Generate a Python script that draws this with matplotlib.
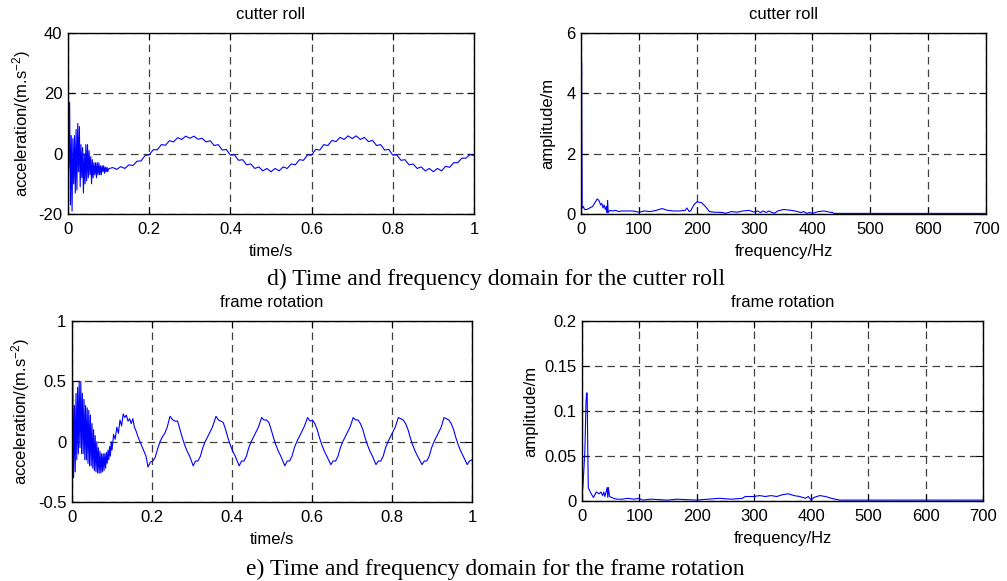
import matplotlib
matplotlib.use("Agg")
import matplotlib.pyplot as plt

plt.rcParams['font.family'] = ['Liberation Sans', 'DejaVu Sans']
plt.rcParams['mathtext.default'] = 'regular'
plt.rcParams['axes.unicode_minus'] = False

# ---------------- data ----------------
# cutter roll, time domain (s, m/s^2)
cr_time = [0.000, 0.002, 0.004, 0.006, 0.008, 0.010, 0.012, 0.014, 0.016, 0.018,
           0.020, 0.022, 0.024, 0.026, 0.028, 0.030, 0.032, 0.034, 0.036, 0.038,
           0.040, 0.042, 0.044, 0.046, 0.048, 0.050, 0.052, 0.054, 0.056, 0.058,
           0.060, 0.062, 0.064, 0.066, 0.068, 0.070, 0.072, 0.074, 0.076, 0.078,
           0.080, 0.082, 0.084, 0.086, 0.088, 0.090, 0.092, 0.094, 0.096, 0.098,
           0.100, 0.11, 0.12, 0.13, 0.14, 0.15, 0.16, 0.17, 0.18, 0.19,
           0.20, 0.21, 0.22, 0.23, 0.24, 0.25, 0.26, 0.27, 0.28, 0.29,
           0.30, 0.31, 0.32, 0.33, 0.34, 0.35, 0.36, 0.37, 0.38, 0.39,
           0.40, 0.41, 0.42, 0.43, 0.44, 0.45, 0.46, 0.47, 0.48, 0.49,
           0.50, 0.51, 0.52, 0.53, 0.54, 0.55, 0.56, 0.57, 0.58, 0.59,
           0.60, 0.61, 0.62, 0.63, 0.64, 0.65, 0.66, 0.67, 0.68, 0.69,
           0.70, 0.71, 0.72, 0.73, 0.74, 0.75, 0.76, 0.77, 0.78, 0.79,
           0.80, 0.81, 0.82, 0.83, 0.84, 0.85, 0.86, 0.87, 0.88, 0.89,
           0.90, 0.91, 0.92, 0.93, 0.94, 0.95, 0.96, 0.97, 0.98, 0.99, 1.00]
cr_acc = [27, -5, 17, -17, 6, -19, 5, -10, 6, -13,
          8, -12, 10, -6, 9, -11, 3, -8, 2, -13,
          0, -10, 3, -9, 3, -8, 1, -7, -1, -10,
          -2, -8, -3, -7, -3, -8, -3, -7, -3, -7,
          -4, -7, -4, -6, -4, -6.5, -4.5, -6, -4.5, -6,
          -5, -4.6, -5.2, -4.3, -4.9, -3.7, -3.9, -2.5, -2.4, -0.6,
          -0.4, 1.3, 1.3, 3.0, 2.8, 4.3, 3.9, 5.3, 4.7, 5.8,
          5.1, 5.8, 4.8, 5.1, 3.9, 4.3, 2.7, 3.0, 1.2, 1.4,
          -0.5, -0.4, -2.2, -2.0, -3.7, -3.4, -4.9, -4.4, -5.7, -4.9,
          -6.0, -4.9, -5.7, -4.4, -4.9, -3.4, -3.7, -2.0, -2.2, -0.4,
          -0.5, 1.4, 1.2, 3.0, 2.7, 4.4, 4.0, 5.4, 4.7, 5.9,
          5.0, 5.9, 4.7, 5.4, 4.0, 4.4, 2.7, 3.0, 1.2, 1.4,
          -0.5, -0.4, -2.2, -2.0, -3.7, -3.4, -4.9, -4.4, -5.7, -4.9,
          -6.0, -4.9, -5.7, -4.2, -4.5, -3.0, -3.0, -1.5, -1.5, -0.3, -0.6]

# cutter roll, frequency domain (Hz, amplitude)
cr_freq = [0, 1, 2, 4, 6, 10, 15, 20, 25, 28, 31, 34, 36, 38, 40, 42, 44, 45, 46, 47,
           50, 55, 60, 65, 70, 80, 90, 100, 110, 120, 130, 140, 150, 160, 170, 180,
           183, 187, 190, 195, 200, 208, 215, 222, 230, 245, 250, 260, 270, 280, 290,
           300, 305, 310, 315, 320, 325, 330, 335, 340, 350, 360, 370, 380, 385, 390,
           395, 400, 410, 420, 430, 435, 437, 500, 600, 700]
cr_amp = [1.6, 5.0, 0.2, 0.25, 0.15, 0.15, 0.2, 0.25, 0.4, 0.5, 0.45, 0.3, 0.35, 0.2, 0.3,
          0.15, 0.25, 0.05, 0.45, 0.05,
          0.12, 0.1, 0.12, 0.08, 0.1, 0.1, 0.1, 0.06, 0.1, 0.08, 0.12, 0.18, 0.12, 0.1, 0.1, 0.12,
          0.2, 0.08, 0.12, 0.3, 0.4, 0.38, 0.25, 0.08, 0.06, 0.05, 0.02, 0.08, 0.06, 0.1, 0.12,
          0.06, 0.1, 0.05, 0.1, 0.05, 0.1, 0.05, 0.03, 0.1, 0.15, 0.13, 0.1, 0.05, 0.08, 0.02,
          0.05, 0.02, 0.08, 0.1, 0.06, 0.05, 0.02, 0.02, 0.02, 0.02]

# frame rotation, time domain (s, m/s^2)
fr_time = [0.000, 0.002, 0.004, 0.006, 0.008, 0.010, 0.012, 0.014, 0.016, 0.018,
           0.020, 0.022, 0.024, 0.026, 0.028, 0.030, 0.032, 0.034, 0.036, 0.038,
           0.040, 0.042, 0.044, 0.046, 0.048, 0.050, 0.052, 0.054, 0.056, 0.058,
           0.060, 0.062, 0.064, 0.066, 0.068, 0.070, 0.072, 0.074, 0.076, 0.078,
           0.080, 0.082, 0.084, 0.086, 0.088, 0.090, 0.092, 0.094, 0.096, 0.098,
           0.100, 0.104, 0.108, 0.112, 0.116, 0.120, 0.124, 0.128, 0.132, 0.136,
           0.140, 0.144, 0.148, 0.152, 0.156, 0.160, 0.165, 0.170, 0.175, 0.180,
           0.185,
           0.190, 0.196, 0.202, 0.208, 0.214, 0.220, 0.226, 0.232, 0.238, 0.245,
           0.252, 0.258, 0.264, 0.270, 0.276, 0.282, 0.288, 0.294,
           0.303, 0.309, 0.315, 0.321, 0.327, 0.333, 0.339, 0.345, 0.351, 0.360,
           0.366, 0.372, 0.378, 0.384, 0.390, 0.396, 0.402, 0.408,
           0.418, 0.424, 0.430, 0.436, 0.442, 0.448, 0.454, 0.460, 0.466, 0.474,
           0.480, 0.486, 0.492, 0.498, 0.504, 0.510, 0.516, 0.522,
           0.532, 0.538, 0.544, 0.550, 0.556, 0.562, 0.568, 0.574, 0.580, 0.589,
           0.595, 0.601, 0.607, 0.613, 0.619, 0.625, 0.631, 0.637,
           0.647, 0.653, 0.659, 0.665, 0.671, 0.677, 0.683, 0.689, 0.695, 0.703,
           0.709, 0.715, 0.721, 0.727, 0.733, 0.739, 0.745, 0.751,
           0.760, 0.766, 0.772, 0.778, 0.784, 0.790, 0.796, 0.802, 0.808, 0.816,
           0.822, 0.828, 0.834, 0.840, 0.846, 0.852, 0.858, 0.864,
           0.875, 0.881, 0.887, 0.893, 0.899, 0.905, 0.911, 0.917, 0.923, 0.930,
           0.936, 0.942, 0.948, 0.954, 0.960, 0.966, 0.972, 0.978,
           0.988, 0.994, 1.000]
fr_acc = [0.1, 0.5, -0.3, 0.3, -0.25, 0.4, -0.15, 0.45, -0.1, 0.5,
          -0.05, 0.5, -0.1, 0.4, -0.1, 0.35, -0.15, 0.3, -0.15, 0.28,
          -0.18, 0.26, -0.2, 0.22, -0.2, 0.15, -0.22, 0.1, -0.24, 0.05,
          -0.25, 0.0, -0.26, -0.05, -0.26, -0.08, -0.26, -0.1, -0.25, -0.1,
          -0.24, -0.1, -0.22, -0.09, -0.18, -0.07, -0.15, -0.04, -0.12, 0.0,
          -0.07, 0.06, 0.02, 0.12, 0.07, 0.18, 0.13, 0.23, 0.2, 0.22,
          0.17, 0.19, 0.15, 0.19, 0.12, 0.09, 0.04, 0.0, -0.04, -0.08,
          -0.12,
          -0.21, -0.17, -0.16, -0.13, -0.06, 0.00, 0.04, 0.07, 0.12, 0.21,
          0.18, 0.17, 0.17, 0.10, 0.03, -0.03, -0.08, -0.12,
          -0.20, -0.16, -0.16, -0.12, -0.05, 0.00, 0.04, 0.08, 0.12, 0.21,
          0.18, 0.17, 0.16, 0.10, 0.03, -0.03, -0.08, -0.12,
          -0.20, -0.16, -0.16, -0.12, -0.05, 0.00, 0.04, 0.08, 0.12, 0.20,
          0.18, 0.18, 0.16, 0.10, 0.03, -0.03, -0.08, -0.12,
          -0.20, -0.16, -0.16, -0.12, -0.05, 0.00, 0.04, 0.08, 0.12, 0.20,
          0.17, 0.18, 0.15, 0.10, 0.03, -0.03, -0.08, -0.12,
          -0.19, -0.16, -0.16, -0.12, -0.05, 0.00, 0.04, 0.08, 0.12, 0.20,
          0.18, 0.18, 0.15, 0.10, 0.03, -0.03, -0.08, -0.12,
          -0.19, -0.16, -0.16, -0.12, -0.05, 0.00, 0.04, 0.08, 0.12, 0.20,
          0.19, 0.18, 0.15, 0.10, 0.03, -0.03, -0.08, -0.12,
          -0.19, -0.16, -0.16, -0.12, -0.05, 0.00, 0.04, 0.08, 0.12, 0.20,
          0.19, 0.18, 0.15, 0.10, 0.03, -0.03, -0.08, -0.12,
          -0.19, -0.16, -0.15]

# frame rotation, frequency domain (Hz, amplitude)
fr_freq = [0, 2, 5, 7, 8, 9, 10, 11, 13, 16, 20, 25, 30, 33, 36, 38, 40, 42, 44, 45,
           46, 48, 55, 60, 70, 80, 90, 100, 105, 120, 150, 165, 200, 220, 240, 260,
           280, 285, 300, 310, 320, 330, 340, 350, 360, 370, 380, 390, 395, 400, 405,
           415, 425, 435, 450, 460, 700]
fr_amp = [0.005, 0.02, 0.055, 0.11, 0.12, 0.12, 0.06, 0.015, 0.012, 0.008, 0.004, 0.01,
          0.008, 0.01, 0.006, 0.01, 0.005, 0.01, 0.015, 0.004,
          0.015, 0.005, 0.003, 0.002, 0.002, 0.003, 0.002, 0.003, 0.001, 0.002, 0.001,
          0.002, 0.001, 0.002, 0.003, 0.002,
          0.003, 0.005, 0.005, 0.006, 0.005, 0.006, 0.005, 0.007, 0.008, 0.006, 0.005,
          0.003, 0.005, 0.001, 0.004, 0.006, 0.005, 0.003, 0.001, 0.001, 0.001]

titles = ["cutter roll", "cutter roll", "frame rotation", "frame rotation"]
time_ticks = [0, 0.2, 0.4, 0.6, 0.8, 1]
time_ticklabels = ["0", "0.2", "0.4", "0.6", "0.8", "1"]
freq_ticks = [0, 100, 200, 300, 400, 500, 600, 700]
cr_acc_ticks = [-20, 0, 20, 40]
cr_amp_ticks = [0, 2, 4, 6]
fr_acc_ticks = [-0.5, 0, 0.5, 1]
fr_acc_ticklabels = ["-0.5", "0", "0.5", "1"]
fr_amp_ticks = [0, 0.05, 0.1, 0.15, 0.2]
fr_amp_ticklabels = ["0", "0.05", "0.1", "0.15", "0.2"]
caption_d = "d) Time and frequency domain for the cutter roll"
caption_e = "e) Time and frequency domain for the frame rotation"

# ---------------- figure ----------------
W, H = 1007, 581
fig = plt.figure(figsize=(W / 100, H / 100), dpi=100)

def px_axes(l, t, r, b):
    return fig.add_axes([l / W, 1 - b / H, (r - l) / W, (b - t) / H])

ax1 = px_axes(68, 33, 474, 214)
ax2 = px_axes(581, 33, 986, 214)
ax3 = px_axes(72, 321, 472, 502)
ax4 = px_axes(582, 321, 983, 501)

line_kw = dict(color=(0, 0, 1), lw=0.8)
ax1.plot(cr_time, cr_acc, **line_kw)
ax2.plot(cr_freq, cr_amp, **line_kw)
ax3.plot(fr_time, fr_acc, **line_kw)
ax4.plot(fr_freq, fr_amp, **line_kw)

fs = 12
for ax, title in zip([ax1, ax2, ax3, ax4], titles):
    ax.set_title(title, fontsize=12, pad=10)
    ax.grid(True, color='#404040', linestyle=(0, (6, 4)), linewidth=0.9)
    ax.tick_params(direction='in', length=5, labelsize=fs, top=True, right=True,
                   width=0.8)
    ax.tick_params(axis='x', pad=6)
    ax.tick_params(axis='y', pad=4)
    for s in ax.spines.values():
        s.set_linewidth(1.0)
        s.set_color('black')

ax1.set_xlim(0, 1); ax1.set_ylim(-20, 40)
ax1.set_xticks(time_ticks, time_ticklabels)
ax1.set_yticks(cr_acc_ticks)
ax1.set_xlabel("time/s", fontsize=fs, labelpad=5)
ax1.set_ylabel(r"acceleration/(m.s$^{-2}$)", fontsize=fs, labelpad=4)

ax2.set_xlim(0, 700); ax2.set_ylim(0, 6)
ax2.set_xticks(freq_ticks)
ax2.set_yticks(cr_amp_ticks)
ax2.set_xlabel("frequency/Hz", fontsize=fs, labelpad=5)
ax2.set_ylabel("amplitude/m", fontsize=fs, labelpad=8)

ax3.set_xlim(0, 1); ax3.set_ylim(-0.5, 1)
ax3.set_xticks(time_ticks, time_ticklabels)
ax3.set_yticks(fr_acc_ticks, fr_acc_ticklabels)
ax3.set_xlabel("time/s", fontsize=fs, labelpad=5)
ax3.set_ylabel(r"acceleration/(m.s$^{-2}$)", fontsize=fs, labelpad=4)

ax4.set_xlim(0, 700); ax4.set_ylim(0, 0.2)
ax4.set_xticks(freq_ticks)
ax4.set_yticks(fr_amp_ticks, fr_amp_ticklabels)
ax4.set_xlabel("frequency/Hz", fontsize=fs, labelpad=5)
ax4.set_ylabel("amplitude/m", fontsize=fs, labelpad=4)

serif = ['Liberation Serif', 'DejaVu Serif']
fig.text(496 / W, 1 - 285 / H, caption_d, ha='center', va='baseline',
         fontsize=17, family=serif)
fig.text(495 / W, 1 - 575 / H, caption_e, ha='center', va='baseline',
         fontsize=17, family=serif)

fig.savefig("out.png", dpi=100)
